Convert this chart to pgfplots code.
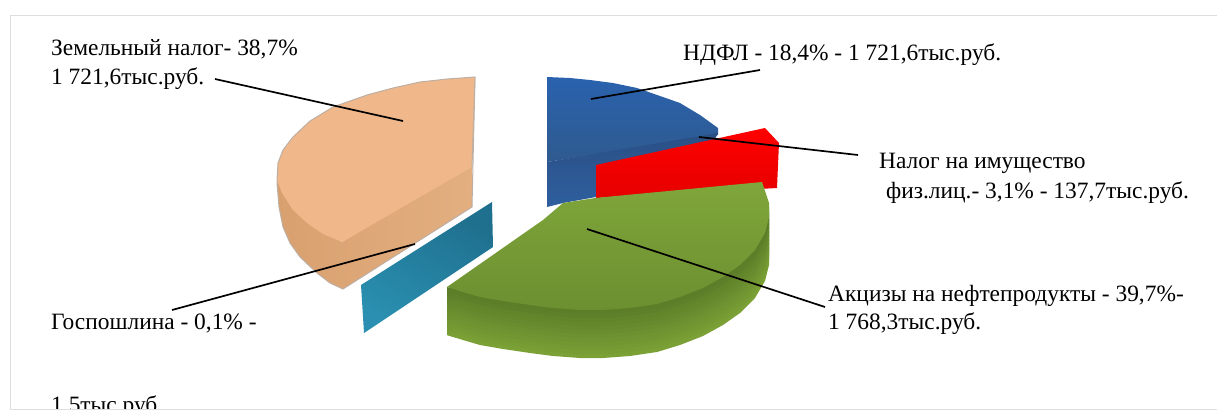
\documentclass[border=0pt]{standalone}
\usepackage{fontspec}
\setmainfont{Liberation Serif}
\usepackage{pgfplots}
\pgfplotsset{compat=1.18}
\definecolor{frame}{HTML}{DEDEDE}
\definecolor{peachtop}{HTML}{EFB78A}
\definecolor{peachside}{HTML}{E3AF80}
\definecolor{peachdark}{HTML}{D9A06F}
\definecolor{peachedge}{HTML}{BDAFA3}
\definecolor{bluea}{HTML}{2A62AE}
\definecolor{blueb}{HTML}{2F5A8E}
\definecolor{bluec}{HTML}{2A4F85}
\definecolor{blued}{HTML}{2F5F9F}
\definecolor{tealb}{HTML}{1F6F8E}
\definecolor{teala}{HTML}{2A8FB0}
\definecolor{redb}{HTML}{FF0000}
\definecolor{reda}{HTML}{E60000}
\definecolor{greena}{HTML}{7FA63B}
\definecolor{greenb}{HTML}{6C8F30}
\definecolor{greenc}{HTML}{5A7A28}
\definecolor{greend}{HTML}{7CA236}
\newcommand{\lab}[3]{\node[anchor=base west,inner sep=0pt,font=\fontsize{23.5}{23.5}\selectfont] at (axis cs:#1,#2) {#3};}
\begin{document}
\begin{tikzpicture}
\useasboundingbox (0,0) rectangle (1217bp,410bp);
\begin{axis}[
    scale only axis,
    width=1217bp,
    height=410bp,
    xmin=0, xmax=1217,
    ymin=0, ymax=410,
    y dir=reverse,
    axis lines=none,
    clip=true,
    no markers,
]
% this label is cut by the frame
\lab{51}{412}{1,5тыс.руб.}

% frame
\addplot[frame,line width=1.9pt] coordinates {(1217,15.5) (10.5,15.5) (10.5,409.5) (1217,409.5)};

% peach slice (land tax)
\addplot[draw=none,left color=peachdark,right color=peachside] coordinates {
    (277,180) (279,207) (283,227) (290,243) (300,257) (317,273) (330,283) (343,289)
    (472,207) (472,165) (342,242) (300,215)
} --cycle;
\addplot[draw=peachedge,line width=1pt] coordinates {
    (277,183) (279,207) (283,227) (290,243) (300,257) (317,273) (330,283) (343,289) (472,207) (475,77)
};
\addplot[draw=none,fill=peachtop] coordinates {
    (475,77) (447,79) (420,82) (393,88) (367,95) (333,107) (310,121) (293,137)
    (283,150) (278,163) (277,180) (282,193) (293,210) (307,223) (323,234) (342,242) (472,167)
} --cycle;
\addplot[draw=peachedge,line width=1pt] coordinates {
    (277,183) (277,180) (278,163) (283,150) (293,137) (310,121) (333,107) (367,95)
    (393,88) (420,82) (447,79) (475,77) (472,167)
};

% teal slice
\addplot[draw=none,top color=tealb,bottom color=teala,shading angle=-30] coordinates {
    (361,285) (492,202) (493,247) (364,333)
} --cycle;

% blue slice
\addplot[draw=none,top color=blueb,bottom color=bluea,shading angle=180] coordinates {
    (547,77) (570,78) (590,80) (613,83) (637,88) (660,96) (680,103) (700,115) (718,128) (718,135) (547,162)
} --cycle;
\addplot[draw=none,top color=bluec,bottom color=blued] coordinates {
    (547,162) (718,133) (700,170) (596,197) (563,203) (547,207)
} --cycle;

% red slice
\addplot[draw=none,top color=redb,bottom color=reda] coordinates {
    (596,165) (765,128) (779,143) (777,188) (596,198)
} --cycle;

% green slice, the rim is the top face pushed down step by step
\pgfplotsinvokeforeach{48,44,40,36,32,28,24,20,16,12,8,4}{
\addplot[draw=none,fill=greenc!\fpeval{100-2*#1}!greend,yshift=-#1bp] coordinates {
    (762,182) (769,203) (769,217) (765,233) (755,250) (740,265) (723,277) (703,288) (680,297)
    (657,304) (630,308) (603,310) (580,310) (553,308) (530,305) (503,301) (480,297) (463,292)
    (447,287) (543,220) (563,203) (595,198)
} --cycle;
}
% straight left end of the rim
\addplot[draw=none,top color=greenc,bottom color=greend] coordinates {
    (447,287) (457,290) (457,338) (447,335)
} --cycle;
\addplot[draw=none,top color=greena,bottom color=greenb] coordinates {
    (762,182) (769,203) (769,217) (765,233) (755,250) (740,265) (723,277) (703,288) (680,297)
    (657,304) (630,308) (603,310) (580,310) (553,308) (530,305) (503,301) (480,297) (463,292)
    (447,287) (543,220) (563,203) (595,198)
} --cycle;

% leader lines
\addplot[black,line width=1.7pt] coordinates {(215,79) (403,121)};
\addplot[black,line width=1.7pt] coordinates {(172,310) (415,244)};
\addplot[black,line width=1.7pt] coordinates {(760,70) (591,99)};
\addplot[black,line width=1.7pt] coordinates {(858,155) (699,137)};
\addplot[black,line width=1.7pt] coordinates {(825,307) (587,229)};

% labels
\lab{51}{55}{Земельный налог- 38,7\%}
\lab{51}{84}{1 721,6тыс.руб.}
\lab{683}{60}{НДФЛ - 18,4\% - 1 721,6тыс.руб.}
\lab{879}{168}{Налог на имущество}
\lab{886}{198}{физ.лиц.- 3,1\% - 137,7тыс.руб.}
\lab{828}{301}{Акцизы на нефтепродукты - 39,7\%-}
\lab{828}{329}{1 768,3тыс.руб.}
\lab{51}{329}{Госпошлина - 0,1\% -}
\end{axis}
\end{tikzpicture}
\end{document}
